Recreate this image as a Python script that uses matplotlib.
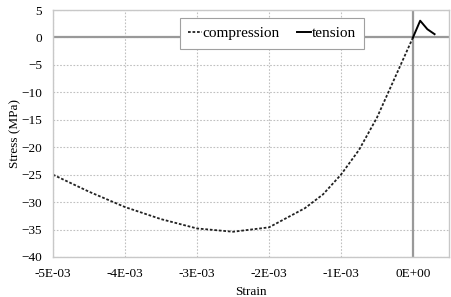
import matplotlib
matplotlib.use("Agg")
import matplotlib.pyplot as plt
from matplotlib.ticker import FuncFormatter

plt.rcParams['font.family'] = ['Liberation Serif', 'DejaVu Serif']

# compression branch (strain, stress MPa)
comp_strain = [-5.0e-3, -4.5e-3, -4.0e-3, -3.5e-3, -3.0e-3, -2.5e-3, -2.0e-3,
               -1.5e-3, -1.25e-3, -1.0e-3, -0.75e-3, -0.5e-3, -0.25e-3, 0.0]
comp_stress = [-25.0, -28.1, -30.9, -33.1, -34.8, -35.4, -34.6,
               -31.1, -28.6, -25.0, -20.5, -14.6, -7.3, 0.0]

# tension branch
ten_strain = [0.0, 0.1e-3, 0.2e-3, 0.3e-3]
ten_stress = [0.0, 3.05, 1.5, 0.6]

xticks = [-5e-3, -4e-3, -3e-3, -2e-3, -1e-3, 0.0]
yticks = [5, 0, -5, -10, -15, -20, -25, -30, -35, -40]


def sci(v, pos):
    if abs(v) < 1e-12:
        return "0E+00"
    return "%.0E" % v


fig = plt.figure(figsize=(4.51, 2.97), dpi=100)
ax = fig.add_axes([0.1175, 0.1347, 0.878, 0.8316])

ax.plot(comp_strain, comp_stress, linestyle=(0, (1.5, 1)), color='#222222',
        linewidth=1.3, label="compression")
ax.plot(ten_strain, ten_stress, '-', color='black', linewidth=1.4,
        label="tension")

ax.axhline(0, color='#999999', linewidth=1.6, zorder=1)
ax.axvline(0, color='#999999', linewidth=1.6, zorder=1)

ax.set_xlim(-5e-3, 0.5e-3)
ax.set_ylim(-40, 5)
ax.set_xticks(xticks)
ax.set_yticks(yticks)
ax.xaxis.set_major_formatter(FuncFormatter(sci))
ax.tick_params(length=0, labelsize=9.5, pad=8)

ax.grid(True, linestyle=(0, (1.5, 1.5)), color='#c0c0c0', linewidth=0.8)
ax.set_axisbelow(True)
for s in ax.spines.values():
    s.set_color('#c8c8c8')
    s.set_linewidth(1.0)

ax.set_xlabel("Strain", fontsize=9.5, labelpad=4)
ax.set_ylabel("Stress (MPa)", fontsize=9.5, labelpad=0)

leg = ax.legend(loc='center', bbox_to_anchor=(0.553, 0.905), ncol=2,
                fontsize=11, frameon=True, fancybox=False, handlelength=0.9,
                handletextpad=0.05, columnspacing=1.1, borderpad=0.55,
                borderaxespad=0)
leg.get_frame().set_edgecolor('#a0a0a0')
leg.get_frame().set_linewidth(0.8)
leg.get_frame().set_alpha(1)

fig.savefig("out.png", dpi=100)
